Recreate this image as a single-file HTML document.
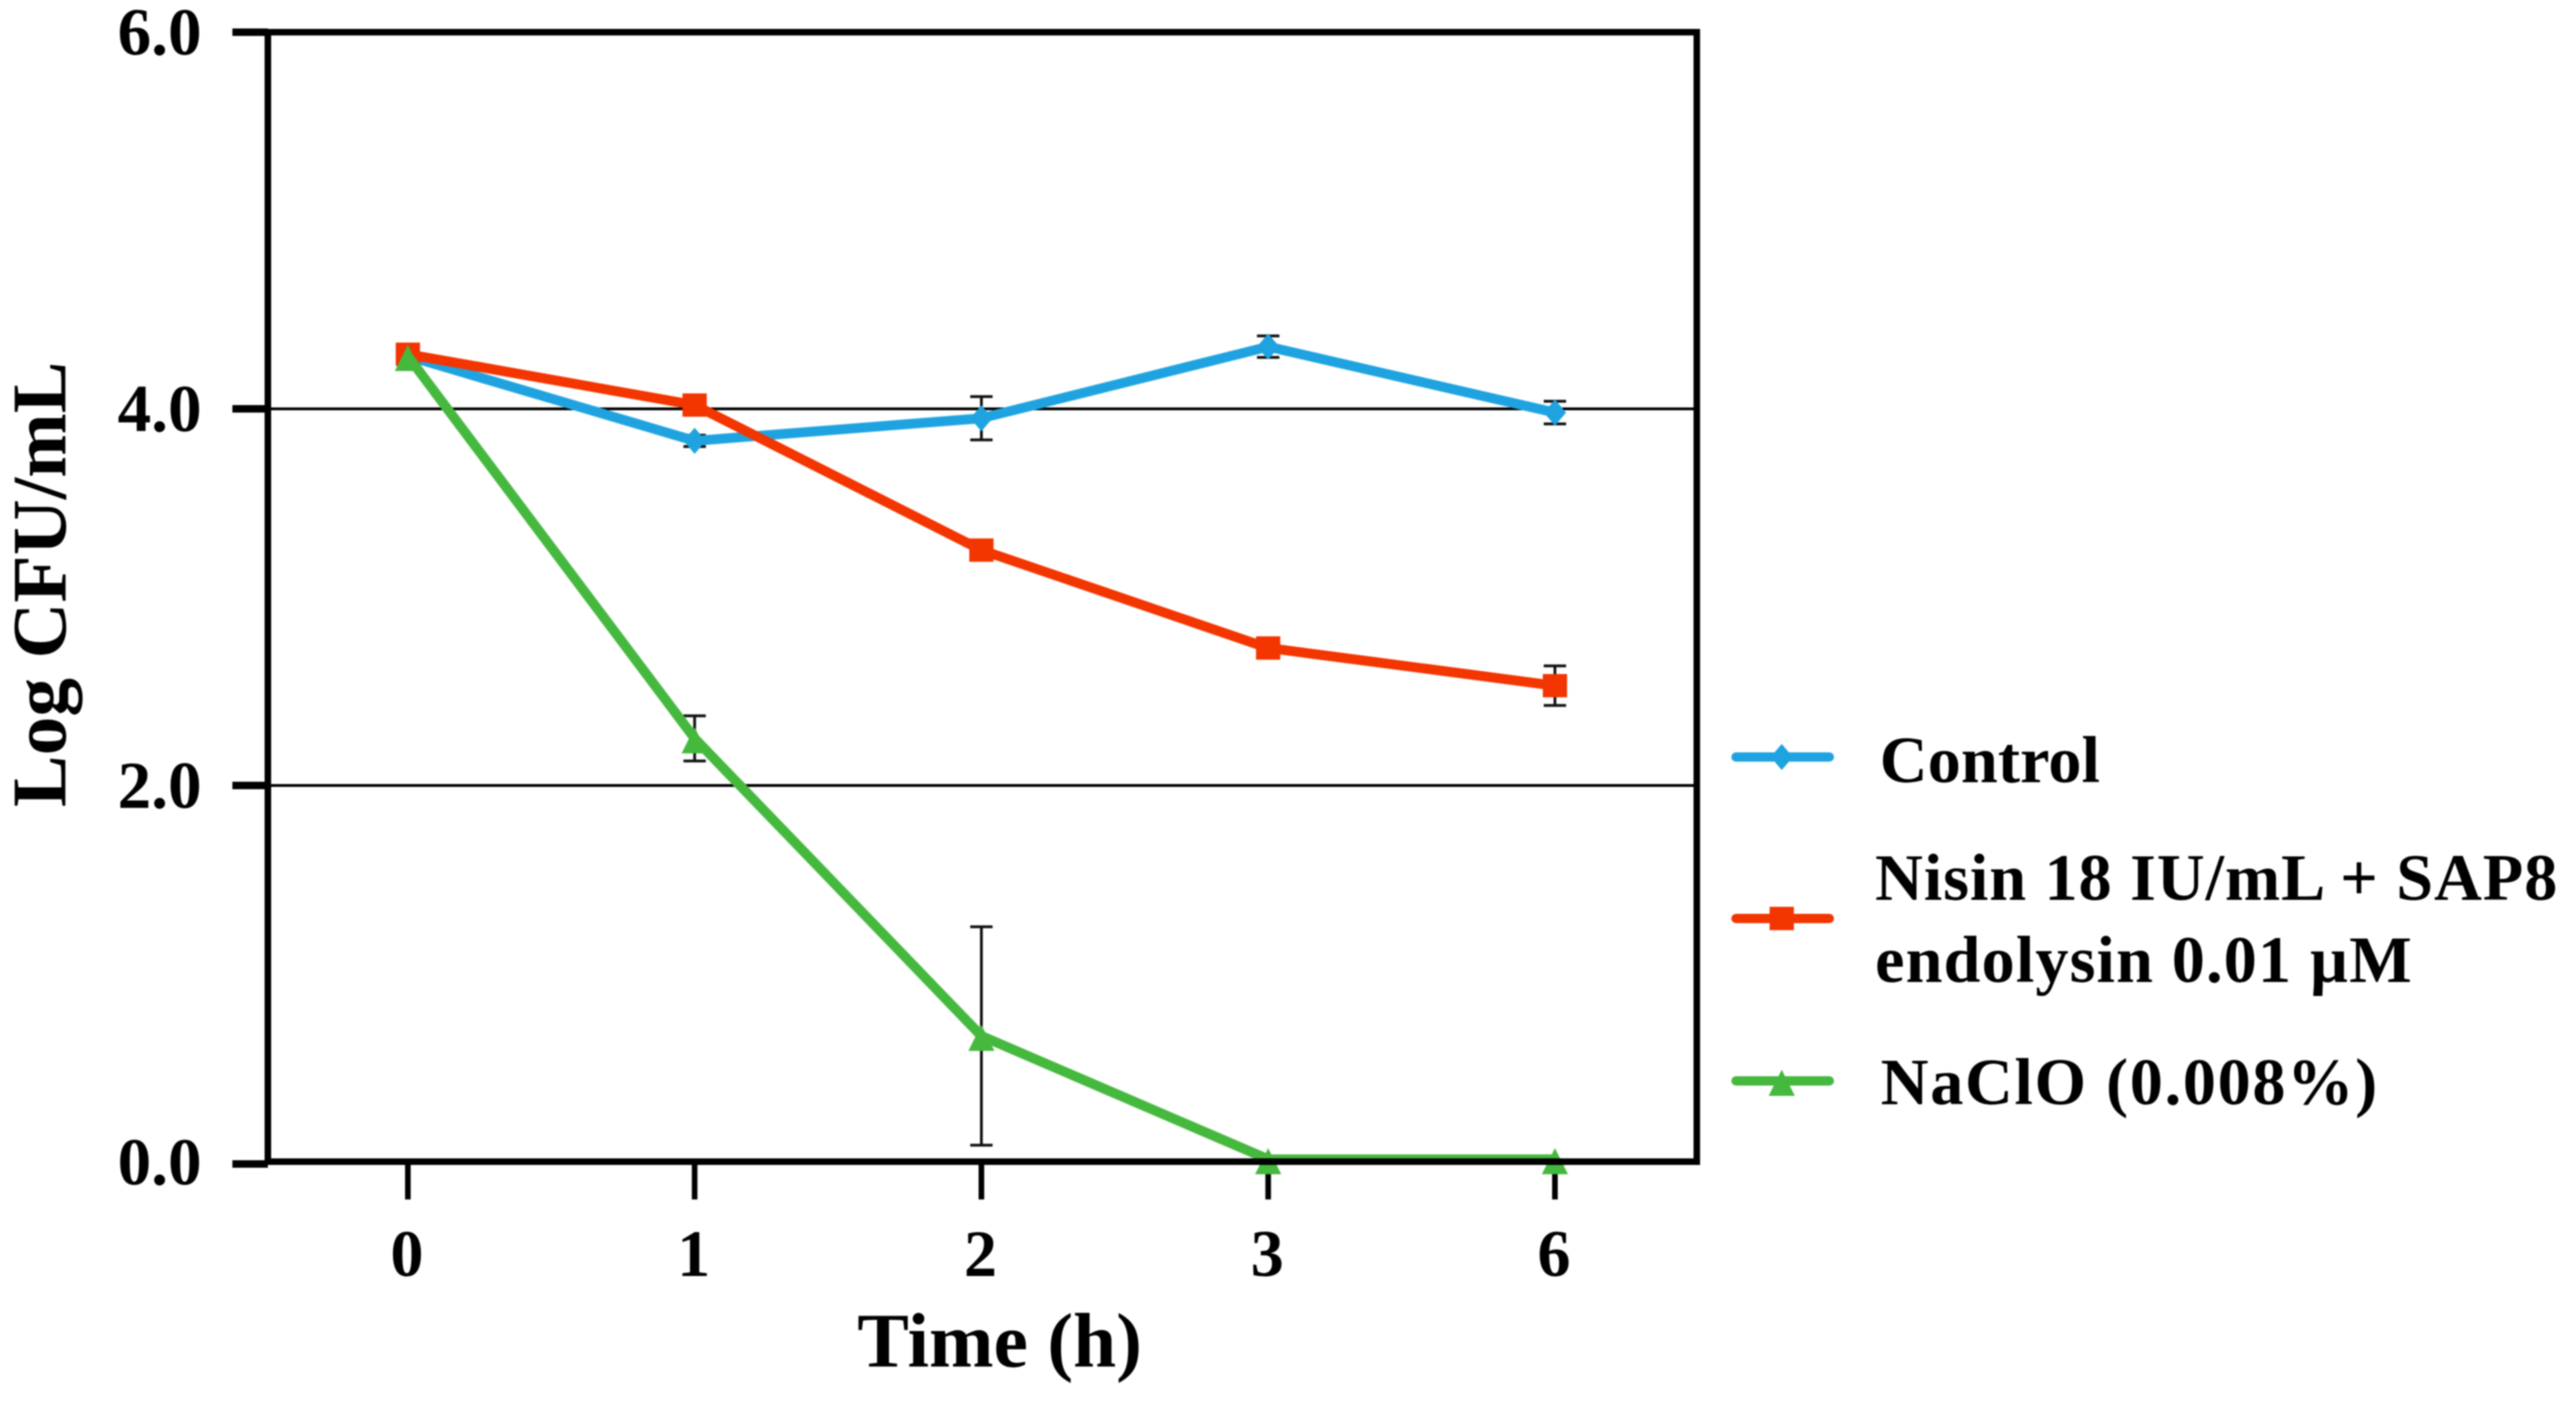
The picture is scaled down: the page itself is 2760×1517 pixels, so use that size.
<!DOCTYPE html>
<html lang="en">
<head>
<meta charset="utf-8">
<title>Log CFU/mL over time</title>
<style>
html,body{margin:0;padding:0;background:#fff;width:2760px;height:1517px;overflow:hidden}
svg{display:block;filter:blur(0.7px)}
text{font-family:"Liberation Serif","Times New Roman",serif;font-weight:bold;fill:#000}
</style>
</head>
<body>
<svg id="chart" xmlns="http://www.w3.org/2000/svg" width="2760" height="1517" viewBox="0 0 2760 1517">
<g id="grid"></g>
<g id="yticks"></g>
<g id="xticks"></g>
<text transform="translate(70,626) rotate(-90)" text-anchor="middle" font-size="83">Log CFU/mL</text>
<text x="1071" y="1464" text-anchor="middle" font-size="83">Time (h)</text>
<g id="marks"></g>
<rect x="287" y="34.5" width="1531" height="1210" fill="none" stroke="#000" stroke-width="7"></rect>
<g id="legend">
<text x="2014" y="838" font-size="71" textLength="236">Control</text>
<text x="2009" y="964" font-size="71" textLength="731">Nisin 18 IU/mL + SAP8</text>
<text x="2009" y="1052" font-size="71" textLength="575">endolysin 0.01 µM</text>
<text x="2015" y="1183" font-size="71" textLength="532">NaClO (0.008%)</text>
</g>
</svg>
<script>
const categories = ['0', '1', '2', '3', '6'];
const yTickValues = [0, 2, 4, 6];
const yTickLabels = ['0.0', '2.0', '4.0', '6.0'];
const gridValues = [2, 4];
const controlValues = [4.28, 3.83, 3.95, 4.33, 3.98];
const controlErrors = [0.04, 0.03, 0.115, 0.057, 0.06];
const nisinValues = [4.29, 4.02, 3.25, 2.73, 2.53];
const nisinErrors = [0.05, 0.03, 0.04, 0.03, 0.105];
const sodiumValues = [4.28, 2.25, 0.67, 0.015, 0.015];
const sodiumErrors = [0.03, 0.12, 0.58, 0, 0];

const NS = 'http://www.w3.org/2000/svg';
const xPos = i => 437 + i * 307.25;
const yPos = v => 1245 - v * 201.75;
function make(tag, parent, attrs) {
  const el = document.createElementNS(NS, tag);
  for (const k in attrs) el.setAttribute(k, attrs[k]);
  parent.appendChild(el);
  return el;
}

const grid = document.getElementById('grid');
gridValues.forEach(v => {
  const line = make('line', grid, {x1: 287, x2: 1818, y1: yPos(v), y2: yPos(v), stroke: '#000', 'stroke-width': 3});
  
  
});

const yticks = document.getElementById('yticks');
yTickValues.forEach((v, i) => {
  const tick = make('line', yticks, {x1: 249, x2: 287, y1: yPos(v) + (v === 0 ? 2 : 0), y2: yPos(v) + (v === 0 ? 2 : 0), stroke: '#000', 'stroke-width': 8});
  
  
  const label = make('text', yticks, {x: 216, y: yPos(v) + 24, 'text-anchor': 'end', 'font-size': 72});
  label.textContent = yTickLabels[i];
  
  
});

const xticks = document.getElementById('xticks');
categories.forEach((c, i) => {
  const tick = make('line', xticks, {x1: xPos(i), x2: xPos(i), y1: 1245, y2: 1285, stroke: '#000', 'stroke-width': 6});
  
  
  const label = make('text', xticks, {x: xPos(i) - 1, y: 1367, 'text-anchor': 'middle', 'font-size': 71});
  label.textContent = c;
  
  
});

function marker(parent, shape, cx, cy, color) {
  if (shape === 'square') return make('rect', parent, {x: cx - 13, y: cy - 12.5, width: 26, height: 25, fill: color});
  if (shape === 'diamond') return make('polygon', parent, {points: [cx, cy - 14, cx + 12, cy, cx, cy + 14, cx - 12, cy].join(','), fill: color});
  return make('polygon', parent, {points: [cx, cy - 12, cx + 14, cy + 16, cx - 14, cy + 16].join(','), fill: color});
}

const seriesList = [
  {name: 'control', values: controlValues, errors: controlErrors, color: '#1fa3e0', shape: 'diamond', legendY: 811},
  {name: 'nisin', values: nisinValues, errors: nisinErrors, color: '#f33500', shape: 'square', legendY: 984},
  {name: 'naclo', values: sodiumValues, errors: sodiumErrors, color: '#45b83e', shape: 'triangle', legendY: 1158}
];
const marks = document.getElementById('marks');

seriesList.forEach(s => {
  s.values.forEach((v, i) => {
    if (s.errors[i] === 0) return;
    const x = xPos(i), top = yPos(v + s.errors[i]), bottom = yPos(v - s.errors[i]);
    const bar = make('path', marks, {d: `M${x - 12} ${top}H${x + 12}M${x} ${top}V${bottom}M${x - 12} ${bottom}H${x + 12}`, fill: 'none', stroke: '#111', 'stroke-width': 3});
    
    
  });
});

seriesList.forEach(s => {
  const line = make('polyline', marks, {points: s.values.map((v, i) => xPos(i) + ',' + yPos(v)).join(' '), fill: 'none', stroke: s.color, 'stroke-width': 10.5, 'stroke-linejoin': 'round'});
  
  
  s.values.forEach((v, i) => {
    const point = marker(marks, s.shape, xPos(i), yPos(v), s.color);
    
    
  });
});

const legend = document.getElementById('legend');
seriesList.forEach(s => {
  const key = make('line', legend, {x1: 1860, x2: 1960, y1: s.legendY, y2: s.legendY, stroke: s.color, 'stroke-width': 10, 'stroke-linecap': 'round'});
  
  
  const sym = marker(legend, s.shape, 1909, s.legendY, s.color);
  
  
});
</script>
</body>
</html>
